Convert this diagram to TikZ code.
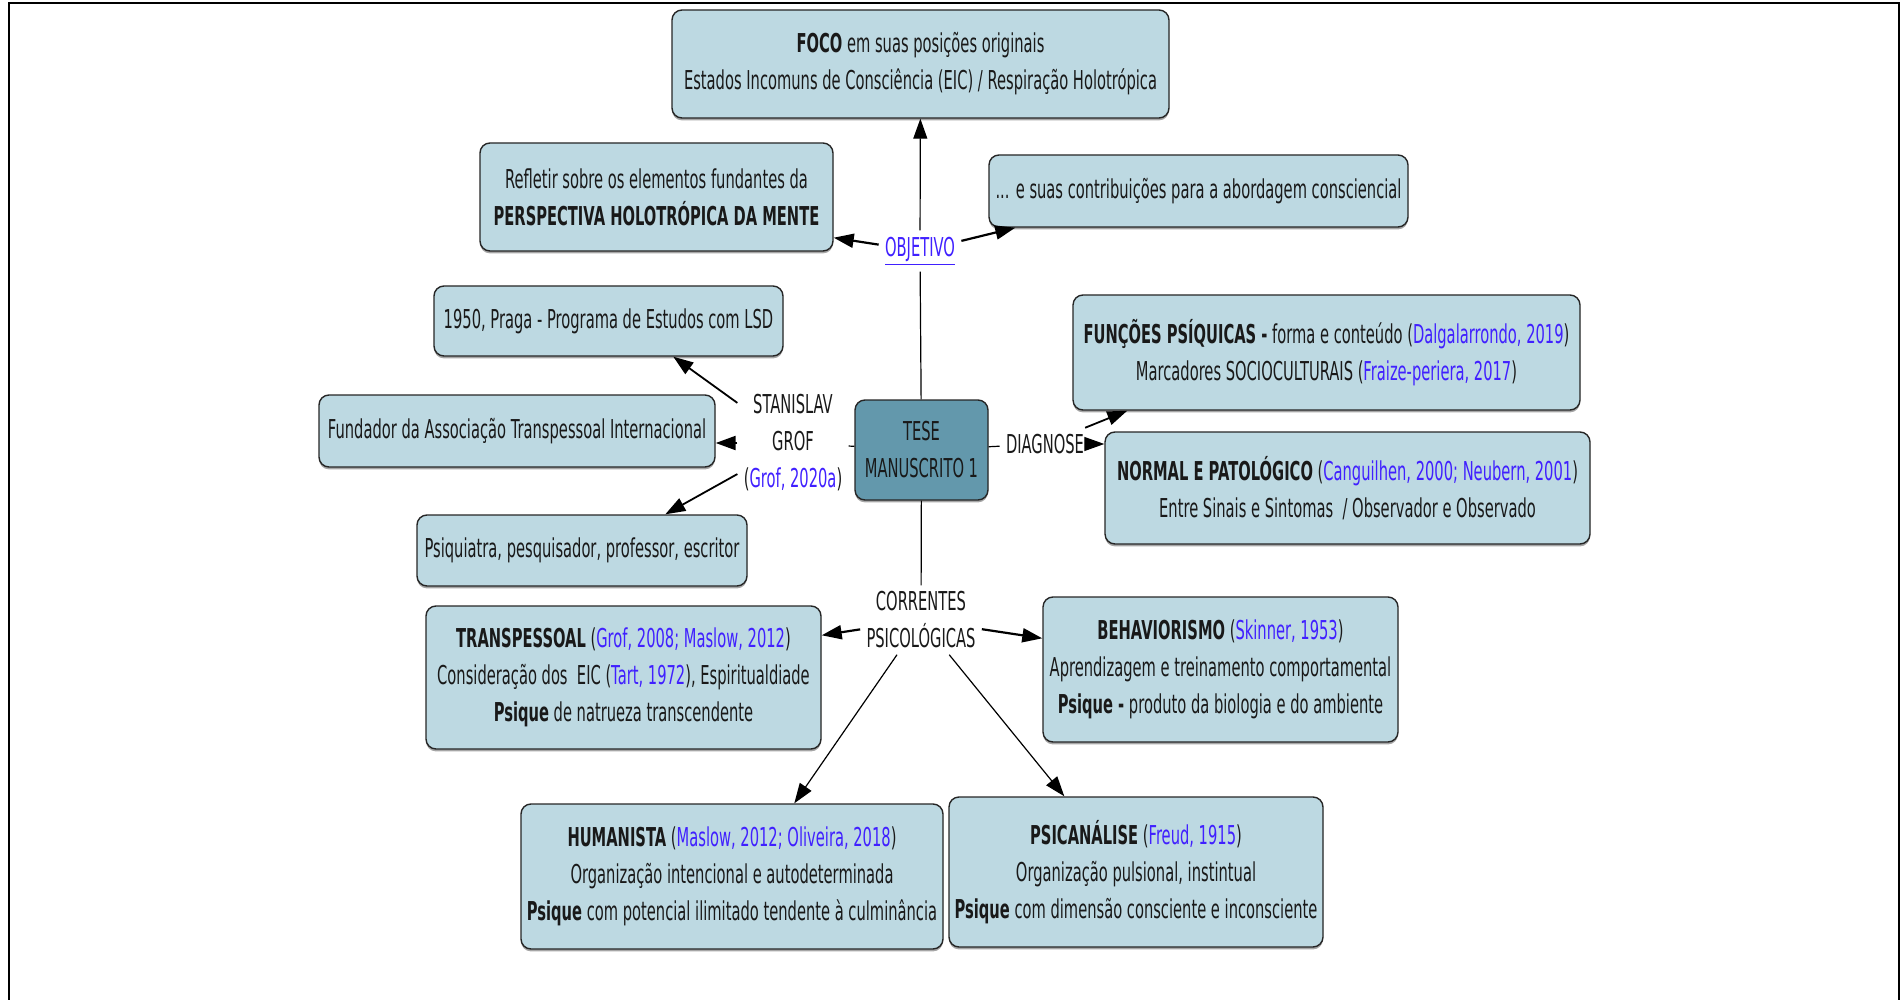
\documentclass[tikz,border=0pt]{standalone}
\usepackage{fontspec}
\setmainfont{DejaVu Sans}[FakeStretch=0.565]
\usetikzlibrary{arrows.meta,calc,shadows}
\definecolor{caixa}{RGB}{189,217,226}
\definecolor{tese}{RGB}{99,152,172}
\definecolor{citacao}{RGB}{64,32,255}
\definecolor{texto}{RGB}{25,25,25}
\newcommand{\autor}[1]{\textcolor{citacao}{#1}}

\begin{document}
\begin{tikzpicture}[x=0.5pt, y=-0.5pt,
    font=\fontsize{13}{18.5}\selectfont,
    box/.style={draw=black!85, line width=0.7pt, fill=caixa, rounded corners=5pt,
      align=center, text=texto, inner sep=2pt,
      drop shadow={shadow xshift=0pt, shadow yshift=-1.2pt, opacity=0.7}},
    rotulo/.style={align=center, text=texto, inner sep=3pt},
    seta/.style={-{Triangle[length=10pt, width=7pt]}, line width=0.6pt},
    liga/.style={line width=0.6pt}]
  \useasboundingbox (0,0) rectangle (1901,1000);
  \draw [line width=1pt] (9,1000) -- (9,3) -- (1899,3) -- (1899,1000);

  % centro
  \node [box, fill=tese, minimum width=66.5pt, minimum height=50pt] (tese) at (921.5,450)
    {TESE\\MANUSCRITO 1};

  % objetivo
  \node [box, minimum width=248.5pt, minimum height=54pt] (foco) at (920.5,64)
    {\textbf{FOCO} em suas posições originais\\Estados Incomuns de Consciência (EIC) / Respiração Holotrópica};
  \node [box, minimum width=176.5pt, minimum height=54pt] (refletir) at (656.5,197)
    {Refletir sobre os elementos fundantes da\\\textbf{PERSPECTIVA HOLOTRÓPICA DA MENTE}};
  \node [box, minimum width=209.5pt, minimum height=36pt] (contrib) at (1198.5,191)
    {... e suas contribuições para a abordagem consciencial};
  \node [rotulo] (objetivo) at (920,251) {\textcolor{citacao}{\underline{OBJETIVO}}};

  % grof
  \node [box, minimum width=174.5pt, minimum height=35pt] (ano) at (608.5,321)
    {1950, Praga - Programa de Estudos com LSD};
  \node [box, minimum width=198pt, minimum height=36pt] (fundador) at (517,431)
    {Fundador da Associação Transpessoal Internacional};
  \node [box, minimum width=165pt, minimum height=35.5pt] (psiq) at (582,550.5)
    {Psiquiatra, pesquisador, professor, escritor};
  \node [rotulo] (grof) at (793,443) {STANISLAV\\GROF\\(\autor{Grof, 2020a})};

  % diagnose
  \node [box, minimum width=253.5pt, minimum height=57.5pt] (funcoes) at (1326.5,352.5)
    {\textbf{FUNÇÕES PSÍQUICAS -} forma e conteúdo (\autor{Dalgalarrondo, 2019})\\
     Marcadores SOCIOCULTURAIS (\autor{Fraize-periera, 2017})};
  \node [box, minimum width=242.5pt, minimum height=56pt] (normal) at (1347.5,488)
    {\textbf{NORMAL E PATOLÓGICO} (\autor{Canguilhen, 2000; Neubern, 2001})\\
     Entre Sinais e Sintomas\ \ / Observador e Observado};
  \node [rotulo] (diagnose) at (1045,444) {DIAGNOSE};

  % correntes
  \node [box, minimum width=197.5pt, minimum height=71.5pt] (transp) at (623.5,677.5)
    {\textbf{TRANSPESSOAL} (\autor{Grof, 2008; Maslow, 2012})\\
     Consideração dos\ \ EIC (\autor{Tart, 1972}), Espiritualdiade\\
     \textbf{Psique} de natrueza transcendente};
  \node [box, minimum width=177.5pt, minimum height=72.5pt] (behav) at (1220.5,669.5)
    {\textbf{BEHAVIORISMO} (\autor{Skinner, 1953})\\
     Aprendizagem e treinamento comportamental\\
     \textbf{Psique -} produto da biologia e do ambiente};
  \node [box, minimum width=211pt, minimum height=72.5pt] (human) at (732,876.5)
    {\textbf{HUMANISTA} (\autor{Maslow, 2012; Oliveira, 2018})\\
     Organização intencional e autodeterminada\\
     \textbf{Psique} com potencial ilimitado tendente à culminância};
  \node [box, minimum width=187pt, minimum height=75pt] (psican) at (1136,872)
    {\textbf{PSICANÁLISE} (\autor{Freud, 1915})\\
     Organização pulsional, instintual\\
     \textbf{Psique} com dimensão consciente e inconsciente};
  \node [rotulo] (correntes) at (921,620) {CORRENTES\\PSICOLÓGICAS};

  \draw [liga] (tese) -- (objetivo);
  \draw [seta] (objetivo) -- (foco);
  \draw [seta, line width=1.1pt] (objetivo) -- ($(refletir.south east)+(0,-14)$);
  \draw [seta, line width=1.1pt] (objetivo) -- ($(contrib.south west)+(27,0)$);

  \draw [liga] (tese) -- (grof);
  \draw [seta, line width=0.9pt] (grof) -- ($(ano.south west)+(240,0)$);
  \draw [seta, line width=1.1pt] (grof) -- (grof -| fundador.east);
  \draw [seta, line width=0.9pt] (grof) -- ($(psiq.north west)+(249,0)$);

  \draw [liga] (tese) -- (diagnose);
  \draw [seta, line width=0.9pt] (diagnose) -- ($(funcoes.south west)+(55,0)$);
  \draw [seta] (diagnose) -- (diagnose -| normal.west);

  \draw [liga] (tese) -- (correntes);
  \draw [seta, line width=1.1pt] (correntes) -- ($(transp.north east)+(0,30)$);
  \draw [seta, line width=1.1pt] (correntes) -- ($(behav.north west)+(0,42)$);
  \draw [seta] (correntes) -- ($(human.north west)+(274,0)$);
  \draw [seta] (correntes) -- ($(psican.north west)+(116,0)$);
\end{tikzpicture}
\end{document}
